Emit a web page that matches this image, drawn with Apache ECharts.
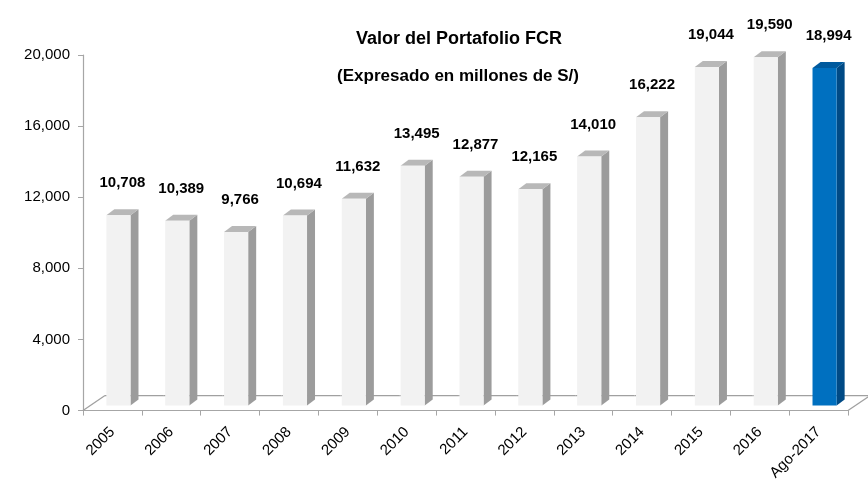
<!DOCTYPE html>
<html>
<head>
<meta charset="utf-8">
<script src="https://cdn.jsdelivr.net/npm/echarts@6/dist/echarts.min.js"></script>
<style>
  html, body { margin: 0; padding: 0; background: #fff; }
  #chart { width: 868px; height: 483px; }
</style>
</head>
<body>
<div id="chart"></div>
<script>
var categories = ['2005', '2006', '2007', '2008', '2009', '2010', '2011', '2012', '2013', '2014', '2015', '2016', 'Ago-2017'];
var values = [10708, 10389, 9766, 10694, 11632, 13495, 12877, 12165, 14010, 16222, 19044, 19590, 18994];
var yTicks = [0, 4000, 8000, 12000, 16000, 20000];

var font = '"Liberation Sans", Arial, sans-serif';

// colores: barras grises y la última en azul
var grayBar = { front: '#f2f2f2', side: '#9c9c9c', top: '#b8b8b8' };
var blueBar = { front: '#0070c0', side: '#004a85', top: '#005a9e' };

function fmt(v) {
  return Number(v).toLocaleString('en-US');
}

// piso 3D (línea del fondo + diagonales)
function renderFloor(params, api) {
  var idx = params.dataIndex;
  var base = api.coord([idx, 0]);
  var band = api.size([1, 0])[0];
  var depthX = 22, depthY = -15;
  var left = base[0] - band / 2;
  var right = base[0] + band / 2;
  var lineStyle = { stroke: '#a0a0a0', lineWidth: 1.3 };
  var children = [{
    type: 'line',
    shape: { x1: left + depthX, y1: base[1] + depthY, x2: right + depthX, y2: base[1] + depthY },
    style: lineStyle
  }];
  if (idx === 0) {
    children.push({
      type: 'line',
      shape: { x1: left, y1: base[1], x2: left + depthX, y2: base[1] + depthY },
      style: lineStyle
    });
  }
  if (idx === categories.length - 1) {
    children.push({
      type: 'line',
      shape: { x1: right, y1: base[1], x2: right + depthX, y2: base[1] + depthY },
      style: lineStyle
    });
  }
  return { type: 'group', children: children };
}

// barra 3D: cara frontal, lateral y tapa
function renderBar(params, api) {
  var idx = params.dataIndex;
  var val = api.value(1);
  var top = api.coord([idx, val]);
  var base = api.coord([idx, 0]);
  var band = api.size([1, 0])[0];
  var w = band * 0.41;
  var sx = 6, sy = -5;   // desplazamiento de la cara frontal
  var dx = 8, dy = -6;   // profundidad
  var x0 = base[0] - w / 2 + sx;
  var x1 = x0 + w;
  var yb = base[1] + sy;
  var yt = top[1] + sy;
  var c = idx === categories.length - 1 ? blueBar : grayBar;
  return {
    type: 'group',
    children: [
      {
        type: 'polygon',
        shape: { points: [[x1, yt], [x1 + dx, yt + dy], [x1 + dx, yb + dy], [x1, yb]] },
        style: { fill: c.side }
      },
      {
        type: 'polygon',
        shape: { points: [[x0, yt], [x1, yt], [x1 + dx, yt + dy], [x0 + dx, yt + dy]] },
        style: { fill: c.top }
      },
      {
        type: 'rect',
        shape: { x: x0, y: yt, width: w, height: yb - yt },
        style: { fill: c.front }
      },
      {
        type: 'text',
        x: x0 + w / 2 + 4,
        y: yt - 32,
        style: {
          text: fmt(val),
          fill: '#000',
          font: 'bold 15px ' + font,
          align: 'center',
          verticalAlign: 'middle'
        }
      }
    ]
  };
}

var chart = echarts.init(document.getElementById('chart'), null, { renderer: 'canvas' });

chart.setOption({
  backgroundColor: '#fff',
  animation: false,
  title: [
    {
      text: 'Valor del Portafolio FCR',
      left: 454,
      top: 25,
      textAlign: 'center',
      textStyle: { fontFamily: font, fontSize: 18, fontWeight: 'bold', color: '#000' }
    },
    {
      text: '(Expresado en millones de S/)',
      left: 453,
      top: 63,
      textAlign: 'center',
      textStyle: { fontFamily: font, fontSize: 17, fontWeight: 'bold', color: '#000' }
    }
  ],
  grid: { left: 83, right: 20, top: 55, bottom: 71, containLabel: false },
  xAxis: {
    type: 'category',
    data: categories,
    boundaryGap: true,
    axisLine: { lineStyle: { color: '#a6a6a6', width: 1.2 } },
    axisTick: { show: true, length: 5, lineStyle: { color: '#a6a6a6' } },
    axisLabel: {
      interval: 0,
      rotate: 45,
      margin: 19,
      color: '#000',
      fontFamily: font,
      fontSize: 15
    }
  },
  yAxis: {
    type: 'value',
    min: yTicks[0],
    max: yTicks[yTicks.length - 1],
    interval: yTicks[1] - yTicks[0],
    axisLine: { show: true, lineStyle: { color: '#a6a6a6', width: 1.2 } },
    axisTick: { show: true, length: 5, lineStyle: { color: '#a6a6a6' } },
    splitLine: { show: false },
    axisLabel: {
      margin: 13,
      color: '#000',
      fontFamily: font,
      fontSize: 15,
      formatter: function (v) { return fmt(v); }
    }
  },
  series: [
    {
      type: 'custom',
      name: 'piso',
      z: 1,
      silent: true,
      renderItem: renderFloor,
      data: values.map(function (v, i) { return [i, v]; })
    },
    {
      type: 'custom',
      name: 'Valor',
      z: 2,
      renderItem: renderBar,
      data: values.map(function (v, i) { return [i, v]; })
    }
  ]
});
</script>
</body>
</html>
